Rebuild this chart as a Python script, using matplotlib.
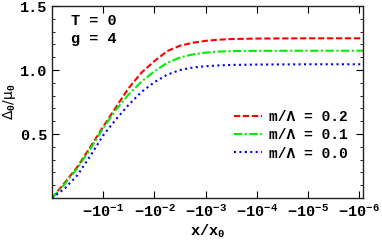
import matplotlib
matplotlib.use("Agg")
import matplotlib.pyplot as plt
import numpy as np
from matplotlib.ticker import FixedLocator, FuncFormatter, MultipleLocator, LogLocator, NullFormatter

plt.rcParams['font.family'] = ['Liberation Mono', 'DejaVu Sans']
plt.rcParams['font.weight'] = 'bold'
plt.rcParams['mathtext.fontset'] = 'custom'
plt.rcParams['mathtext.rm'] = 'Liberation Mono:bold'
plt.rcParams['mathtext.it'] = 'Liberation Mono:bold'
plt.rcParams['mathtext.bf'] = 'Liberation Mono:bold'

# log10(|x/x0|) sample positions; x/x0 is negative
log_abs_x = [0.0, -0.25, -0.5, -0.75, -1.0, -1.25, -1.5, -1.75, -2.0, -2.25,
             -2.5, -2.75, -3.0, -3.25, -3.5, -4.0, -5.0, -6.1]
delta_m02 = [0.0, 0.12, 0.245, 0.40, 0.557, 0.71, 0.86, 0.98, 1.07, 1.148,
             1.19, 1.213, 1.228, 1.237, 1.242, 1.246, 1.248, 1.248]
delta_m01 = [0.0, 0.11, 0.235, 0.385, 0.545, 0.69, 0.81, 0.91, 0.99, 1.056,
             1.098, 1.122, 1.136, 1.144, 1.148, 1.150, 1.151, 1.151]
delta_m00 = [0.0, 0.075, 0.18, 0.33, 0.49, 0.615, 0.73, 0.83, 0.905, 0.964,
             1.0, 1.02, 1.03, 1.036, 1.04, 1.043, 1.045, 1.045]
labels = ['m/\u039b = 0.2', 'm/\u039b = 0.1', 'm/\u039b = 0.0']
x_ticks = [-1e-1, -1e-2, -1e-3, -1e-4, -1e-5, -1e-6]
y_ticks = [0.5, 1.0, 1.5]

fig = plt.figure(figsize=(3.82, 2.41), dpi=100)
ax = fig.add_axes([0.136, 0.178, 0.814, 0.797])

x_vals = -(10.0 ** np.array(log_abs_x))   # x/x0 values
ax_x = -x_vals                             # plotted as |x/x0| on a reversed log axis
ax.plot(ax_x, delta_m02, color='#ff0000', lw=1.5, ls=(0, (3, 1.3)), label=labels[0])
ax.plot(ax_x, delta_m01, color='#00ee00', lw=1.5, ls=(0, (4, 1.2, 1, 1.2)), label=labels[1])
ax.plot(ax_x, delta_m00, color='#0000ff', lw=1.5, ls=(0, (1, 1.6)), label=labels[2])

ax.set_xscale('log')
ax.set_xlim(1.0, 8.5e-7)
ax.set_ylim(0, 1.5)

ax.xaxis.set_major_locator(FixedLocator([-v for v in x_ticks]))
ax.xaxis.set_major_formatter(FuncFormatter(lambda v, p: r'$-10^{%d}$' % int(round(np.log10(v)))))
ax.xaxis.set_minor_locator(LogLocator(base=10, subs=np.arange(2, 10)))
ax.xaxis.set_minor_formatter(NullFormatter())
ax.yaxis.set_major_locator(FixedLocator(y_ticks))
ax.yaxis.set_major_formatter(FuncFormatter(lambda v, p: '%.1f' % v))
ax.yaxis.set_minor_locator(MultipleLocator(0.1))

ax.tick_params(which='both', direction='in', top=True, right=True, labelsize=11, colors='black')
ax.tick_params(which='major', length=5, width=0.8)
ax.tick_params(which='minor', length=2.5, width=0.6)
for s in ax.spines.values():
    s.set_linewidth(1.0)
    s.set_color('#222222')

ax.set_xlabel(r'x/x$_0$', fontsize=11, fontweight='bold', labelpad=2)
ax.set_ylabel('\u0394$_0$/\u03bc$_0$', fontsize=10, fontweight='normal',
              family=['DejaVu Sans'])
ax.yaxis.set_label_coords(-0.108, 0.5)

ax.text(0.06, 0.90, 'T = 0', transform=ax.transAxes, fontsize=11, fontweight='bold')
ax.text(0.06, 0.805, 'g = 4', transform=ax.transAxes, fontsize=11, fontweight='bold')

ax.legend(loc='lower right', bbox_to_anchor=(0.98, 0.15), frameon=False, fontsize=10.5,
          handlelength=1.9, handletextpad=0.5, labelspacing=0.3, borderaxespad=0.2)

fig.savefig('out.png', dpi=100)
